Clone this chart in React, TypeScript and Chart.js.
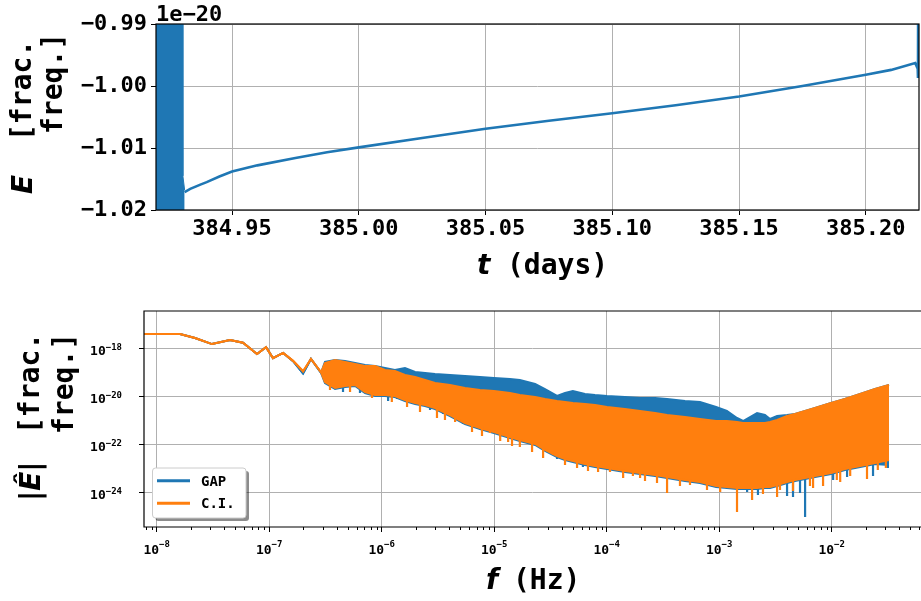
import React, { useEffect, useRef } from "react";
import { Chart, registerables } from "chart.js";

Chart.register(...registerables);

const BLUE = "#1f77b4";
const ORANGE = "#ff7f0e";
const GRID = "#b0b0b0";
const MONO = '"DejaVu Sans Mono", monospace';
const SANS = '"DejaVu Sans", sans-serif';

/* ---------------- top panel: E(t), values in units of 1e-20 ---------------- */
const topTickT = [384.95, 385.0, 385.05, 385.1, 385.15, 385.2];
const topTickE = [-1.02, -1.01, -1.0, -0.99];
const topRangeT = [384.92, 385.221];
const topRangeE = [-1.02, -0.99];
// outline of the dense oscillation at the start of the record
const bandT = [384.9195, 384.9305, 384.9306, 384.9313];
const bandE = [-0.98, -0.98, -1.0145, -1.0168];
const curveT = [384.9313, 384.9335, 384.9375, 384.94, 384.945, 384.95, 384.96, 384.975, 384.9875, 385.0, 385.025, 385.05, 385.075, 385.1, 385.125, 385.15, 385.175, 385.2, 385.21, 385.2195, 385.2205, 385.2206, 385.2207];
const curveE = [-1.0171, -1.0166, -1.0159, -1.0155, -1.0146, -1.0138, -1.0128, -1.0116, -1.0107, -1.0099, -1.0084, -1.0069, -1.0056, -1.0044, -1.0031, -1.0017, -1.0, -0.9982, -0.9974, -0.9963, -0.9972, -0.9987, -0.98];

/* ---------------- bottom panel: |E^|(f) ---------------- */
const botXTicks = [1e-8, 1e-7, 1e-6, 1e-5, 1e-4, 1e-3, 1e-2];
const botYTicks = [1e-24, 1e-22, 1e-20, 1e-18];
const botRangeF = [7.71e-9, 0.0622];
const botRangeV = [3.58e-26, 3.58e-17];
const minorSteps = [2, 3, 4, 5, 6, 7, 8, 9];

// low-frequency part, where both spectra coincide
const lowF = [7.71e-9, 1.61e-8, 2.19e-8, 3.1e-8, 4.48e-8, 5.85e-8, 7.79e-8, 9.37e-8, 1.08e-7, 1.33e-7, 1.63e-7, 2.0e-7, 2.35e-7, 2.89e-7];
const lowCI = [3.9e-18, 3.9e-18, 2.7e-18, 1.5e-18, 2.2e-18, 1.7e-18, 5.8e-19, 1.1e-18, 3.9e-19, 6.4e-19, 3.0e-19, 1.1e-19, 3.6e-19, 1.0e-19];
const lowGAP = [3.9e-18, 3.9e-18, 2.7e-18, 1.5e-18, 2.2e-18, 1.7e-18, 5.8e-19, 1.1e-18, 3.9e-19, 6.4e-19, 2.9e-19, 9.0e-20, 3.6e-19, 9.5e-20];

// noisy part: upper / lower envelopes
const bandF = [3.13e-7, 3.85e-7, 4.72e-7, 5.8e-7, 7.11e-7, 8.72e-7, 1.07e-6, 1.31e-6, 1.61e-6, 1.98e-6, 2.43e-6, 2.98e-6, 4.05e-6, 5.5e-6, 7.48e-6, 9.95e-6, 1.38e-5, 1.69e-5, 2.31e-5, 2.83e-5, 3.62e-5, 4.26e-5, 5.01e-5, 6.41e-5, 7.87e-5, 1.006e-4, 1.45e-4, 1.98e-4, 2.69e-4, 3.44e-4, 4.97e-4, 6.75e-4, 9.38e-4, 1.17e-3, 1.44e-3, 1.63e-3, 1.88e-3, 2.17e-3, 2.55e-3, 2.83e-3, 3.27e-3, 4.01e-3, 4.72e-3, 5.8e-3, 7.11e-3, 9.87e-3, 1.31e-2, 1.79e-2, 2.43e-2, 3.23e-2];
const ciUpper = [2.44e-19, 3.25e-19, 2.69e-19, 2.22e-19, 1.83e-19, 1.83e-19, 1.25e-19, 1.13e-19, 7.72e-20, 6.37e-20, 4.78e-20, 3.58e-20, 2.96e-20, 2.22e-20, 1.83e-20, 1.66e-20, 1.37e-20, 1.13e-20, 9.35e-21, 7.72e-21, 6.37e-21, 5.79e-21, 5.26e-21, 4.78e-21, 4.34e-21, 3.58e-21, 2.96e-21, 2.44e-21, 2.01e-21, 1.66e-21, 1.37e-21, 1.13e-21, 9.35e-22, 9.35e-22, 8.5e-22, 7.72e-22, 7.72e-22, 7.72e-22, 7.72e-22, 8.5e-22, 1.03e-21, 1.51e-21, 1.83e-21, 2.44e-21, 3.25e-21, 5.26e-21, 7.72e-21, 1.25e-20, 2.01e-20, 2.96e-20];
const ciLower = [3.94e-20, 2.22e-20, 2.69e-20, 2.96e-20, 1.51e-20, 1.13e-20, 1.13e-20, 1.03e-20, 7.01e-21, 5.26e-21, 4.34e-21, 3.25e-21, 1.66e-21, 7.72e-22, 4.78e-22, 3.25e-22, 2.01e-22, 1.51e-22, 1.03e-22, 5.79e-23, 3.25e-23, 2.44e-23, 2.01e-23, 1.51e-23, 1.25e-23, 1.03e-23, 7.72e-24, 6.37e-24, 5.26e-24, 4.34e-24, 3.25e-24, 2.69e-24, 1.83e-24, 1.66e-24, 1.51e-24, 1.51e-24, 1.51e-24, 1.51e-24, 1.66e-24, 1.66e-24, 2.01e-24, 2.69e-24, 3.25e-24, 3.94e-24, 4.78e-24, 6.37e-24, 9.35e-24, 1.25e-23, 1.66e-23, 2.22e-23];
const gapUpper = [2.69e-19, 3.25e-19, 2.96e-19, 2.44e-19, 2.01e-19, 1.83e-19, 1.51e-19, 1.25e-19, 1.51e-19, 1.03e-19, 9.35e-20, 8.5e-20, 7.72e-20, 7.01e-20, 6.37e-20, 5.79e-20, 5.26e-20, 4.78e-20, 3.25e-20, 2.01e-20, 1.03e-20, 1.37e-20, 1.66e-20, 1.25e-20, 1.13e-20, 1.03e-20, 9.35e-21, 8.5e-21, 8.5e-21, 7.72e-21, 6.37e-21, 5.79e-21, 3.58e-21, 2.44e-21, 1.25e-21, 9.35e-22, 1.37e-21, 2.01e-21, 1.66e-21, 1.13e-21, 1.51e-21, 1.66e-21, 1.83e-21, 2.44e-21, 3.25e-21, 5.26e-21, 7.72e-21, 1.25e-20, 2.01e-20, 2.96e-20];
const gapLower = [3.58e-20, 2.01e-20, 2.44e-20, 2.69e-20, 1.37e-20, 1.03e-20, 1.03e-20, 9.35e-21, 6.37e-21, 4.78e-21, 3.94e-21, 2.96e-21, 1.51e-21, 7.01e-22, 4.34e-22, 2.96e-22, 1.83e-22, 1.37e-22, 9.35e-23, 5.26e-23, 2.96e-23, 2.22e-23, 1.83e-23, 1.37e-23, 1.13e-23, 9.35e-24, 7.01e-24, 5.79e-24, 4.78e-24, 3.94e-24, 2.96e-24, 2.44e-24, 1.66e-24, 1.51e-24, 1.37e-24, 1.37e-24, 1.37e-24, 1.37e-24, 1.51e-24, 1.51e-24, 1.83e-24, 2.44e-24, 2.96e-24, 3.58e-24, 4.34e-24, 5.79e-24, 8.5e-24, 1.13e-23, 1.51e-23, 1.37e-23];

// downward spikes (frequency, base, tip)
const ciSpikeF = [3.47e-7, 5.23e-7, 8.2e-7, 1.23e-6, 1.68e-6, 2.19e-6, 3.1e-6, 3.65e-6, 4.49e-6, 6.35e-6, 7.79e-6, 9.18e-6, 1.13e-5, 1.33e-5, 1.44e-5, 1.69e-5, 2.17e-5, 2.72e-5, 3.33e-5, 4.26e-5, 5.45e-5, 6.82e-5, 8.38e-5, 1.07e-4, 1.4e-4, 1.71e-4, 1.98e-4, 2.19e-4, 2.8e-4, 3.44e-4, 4.48e-4, 5.5e-4, 7.79e-4, 1.02e-3, 1.44e-3, 1.96e-3, 2.45e-3, 3.27e-3, 3.47e-3, 4.53e-3, 6.41e-3, 6.83e-3, 8.38e-3, 1.11e-2, 1.19e-2, 1.46e-2, 2.06e-2, 2.57e-2, 3.03e-2];
const ciSpikeBase = [3.94e-20, 3.58e-20, 1.83e-20, 1.51e-20, 7.72e-21, 7.01e-21, 3.58e-21, 3.58e-21, 1.51e-21, 9.35e-22, 6.37e-22, 4.34e-22, 3.94e-22, 2.69e-22, 2.44e-22, 2.22e-22, 1.66e-22, 9.35e-23, 5.26e-23, 2.96e-23, 2.69e-23, 2.22e-23, 1.51e-23, 1.25e-23, 1.13e-23, 8.5e-24, 7.72e-24, 8.5e-24, 7.01e-24, 5.26e-24, 5.26e-24, 3.94e-24, 3.25e-24, 2.22e-24, 1.83e-24, 1.83e-24, 2.44e-24, 2.96e-24, 2.69e-24, 3.58e-24, 6.37e-24, 5.26e-24, 7.01e-24, 1.13e-23, 1.03e-23, 1.51e-23, 1.66e-23, 2.69e-23, 2.96e-23];
const ciSpikeTip = [1.83e-20, 1.51e-20, 8.5e-21, 5.79e-21, 3.58e-21, 2.22e-21, 1.25e-21, 1.03e-21, 8.5e-22, 3.25e-22, 2.22e-22, 2.96e-22, 1.37e-22, 1.25e-22, 8.5e-23, 7.72e-23, 4.78e-23, 2.69e-23, 3.58e-23, 1.37e-23, 1.03e-23, 7.72e-24, 7.01e-24, 7.01e-24, 3.94e-24, 4.78e-24, 3.94e-24, 2.96e-24, 2.44e-24, 9.35e-25, 1.83e-24, 2.01e-24, 1.25e-24, 1.03e-24, 1.51e-25, 4.78e-25, 8.5e-25, 6.37e-25, 1.25e-24, 1.13e-24, 1.83e-24, 1.51e-24, 1.83e-24, 3.25e-24, 2.69e-24, 4.78e-24, 3.58e-24, 8.5e-24, 1.03e-23];
const gapSpikeF = [4.53e-7, 6.41e-7, 1.14e-6, 1.37e-6, 2.69e-6, 3.51e-6, 5.28e-6, 1.13e-5, 3.62e-5, 6.15e-5, 1.77e-3, 2.21e-3, 4.01e-3, 4.53e-3, 5.23e-3, 5.8e-3, 1.03e-2, 1.37e-2, 2.33e-2, 3.16e-2];
const gapSpikeBase = [2.69e-20, 2.44e-20, 1.13e-20, 1.13e-20, 4.34e-21, 2.96e-21, 1.03e-21, 2.96e-22, 3.58e-23, 1.66e-23, 1.66e-24, 1.66e-24, 2.69e-24, 2.96e-24, 3.25e-24, 3.58e-24, 6.37e-24, 9.35e-24, 1.51e-23, 2.01e-23];
const gapSpikeTip = [1.51e-20, 1.37e-20, 6.37e-21, 7.72e-21, 2.69e-21, 1.83e-21, 7.01e-22, 2.01e-22, 2.44e-23, 1.13e-23, 1.03e-24, 7.72e-25, 7.01e-25, 6.37e-25, 9.35e-25, 9.35e-26, 3.25e-24, 4.34e-24, 4.78e-24, 1.03e-23];

const legendLabels = ["GAP", "C.I."];
const legendColors = [BLUE, ORANGE];

/* ---------------- helpers ---------------- */
function zip(xs: number[], ys: number[]) {
  return xs.map((x, i) => ({ x, y: ys[i] }));
}
function spikes(f: number[], base: number[], tip: number[]) {
  const out: { x: number; y: number | null }[] = [];
  f.forEach((x, i) => {
    out.push({ x, y: base[i] }, { x, y: tip[i] }, { x, y: null });
  });
  return out;
}
function rotText(ctx: CanvasRenderingContext2D, text: string, font: string, xBase: number, yStart: number) {
  ctx.save();
  ctx.translate(xBase, yStart);
  ctx.rotate(-Math.PI / 2);
  ctx.font = font;
  ctx.textAlign = "left";
  ctx.textBaseline = "alphabetic";
  ctx.fillStyle = "#000";
  ctx.fillText(text, 0, 0);
  ctx.restore();
}
function expText(v: number) {
  const e = Math.round(Math.log10(v));
  return (e < 0 ? "\u2212" : "") + Math.abs(e);
}

const TITLE_MONO = `bold 28px ${MONO}`;
const TITLE_MATH = `italic bold 28px ${SANS}`;

const topDecor = {
  id: "topDecor",
  afterDraw(chart: any) {
    const { ctx, chartArea: a } = chart;
    ctx.save();
    ctx.strokeStyle = "#000";
    ctx.lineWidth = 1.2;
    ctx.strokeRect(a.left, a.top, a.right - a.left, a.bottom - a.top);
    ctx.fillStyle = "#000";
    ctx.font = `bold 22px ${MONO}`;
    ctx.textAlign = "left";
    ctx.textBaseline = "alphabetic";
    ctx.fillText("1e\u221220", a.left, 21);
    ctx.font = TITLE_MATH;
    ctx.fillText("t", 477, 274);
    ctx.font = TITLE_MONO;
    ctx.fillText("(days)", 507, 274);
    ctx.restore();
    rotText(ctx, "E", TITLE_MATH, 32, 194);
    rotText(ctx, "[frac.", TITLE_MONO, 31, 141);
    rotText(ctx, "freq.]", TITLE_MONO, 62, 134);
  },
};

const bottomDecor = {
  id: "bottomDecor",
  afterDraw(chart: any) {
    const { ctx, chartArea: a, scales } = chart;
    const x = scales.x;
    const y = scales.y;
    ctx.save();
    ctx.strokeStyle = "#000";
    ctx.lineWidth = 1.2;
    ctx.beginPath();
    ctx.moveTo(a.right + 2, a.top);
    ctx.lineTo(a.left, a.top);
    ctx.lineTo(a.left, a.bottom);
    ctx.lineTo(a.right + 2, a.bottom);
    ctx.stroke();
    // minor ticks on the frequency axis
    ctx.lineWidth = 1;
    ctx.beginPath();
    for (let e = -9; e <= -2; e++) {
      for (const m of minorSteps) {
        const v = m * Math.pow(10, e);
        if (v < botRangeF[0] || v > botRangeF[1]) continue;
        const px = Math.round(x.getPixelForValue(v)) + 0.5;
        ctx.moveTo(px, a.bottom);
        ctx.lineTo(px, a.bottom + 3);
      }
    }
    ctx.stroke();
    // tick labels 10^n
    ctx.fillStyle = "#000";
    ctx.textAlign = "left";
    ctx.textBaseline = "alphabetic";
    const baseFont = `bold 13px ${MONO}`;
    const supFont = `bold 9px ${MONO}`;
    for (const v of botXTicks) {
      const px = x.getPixelForValue(v);
      const ex = expText(v);
      ctx.font = baseFont;
      const w1 = ctx.measureText("10").width;
      ctx.font = supFont;
      const w2 = ctx.measureText(ex).width;
      const x0 = px - (w1 + w2) / 2;
      ctx.font = baseFont;
      ctx.fillText("10", x0, 254);
      ctx.font = supFont;
      ctx.fillText(ex, x0 + w1, 247);
    }
    for (const v of botYTicks) {
      const py = y.getPixelForValue(v);
      const ex = expText(v);
      ctx.font = supFont;
      const w2 = ctx.measureText(ex).width;
      ctx.font = baseFont;
      const w1 = ctx.measureText("10").width;
      const xEnd = 122;
      ctx.fillText("10", xEnd - w2 - w1, py + 7);
      ctx.font = supFont;
      ctx.fillText(ex, xEnd - w2, py + 1.5);
    }
    // legend
    const lx = 152.5, ly = 168, lw = 93.5, lh = 50;
    ctx.fillStyle = "rgba(0,0,0,0.45)";
    ctx.beginPath();
    ctx.roundRect(lx + 3, ly + 3, lw, lh, 3);
    ctx.fill();
    ctx.fillStyle = "#fff";
    ctx.strokeStyle = "#cccccc";
    ctx.lineWidth = 1;
    ctx.beginPath();
    ctx.roundRect(lx, ly, lw, lh, 3);
    ctx.fill();
    ctx.stroke();
    ctx.font = `bold 14px ${MONO}`;
    legendLabels.forEach((lab, i) => {
      const yy = 180.7 + i * 22.6;
      ctx.strokeStyle = legendColors[i];
      ctx.lineWidth = 3;
      ctx.beginPath();
      ctx.moveTo(157, yy);
      ctx.lineTo(190, yy);
      ctx.stroke();
      ctx.fillStyle = "#000";
      ctx.fillText(lab, 201, yy + 5);
    });
    ctx.font = TITLE_MATH;
    ctx.fillText("f", 486, 289);
    ctx.font = TITLE_MONO;
    ctx.fillText("(Hz)", 513, 289);
    ctx.restore();
    rotText(ctx, "|\u00CA|", TITLE_MATH, 40, 201);
    rotText(ctx, "[frac.", TITLE_MONO, 39, 134);
    rotText(ctx, "freq.]", TITLE_MONO, 73, 134);
  },
};

const tickFont = { family: MONO, size: 22, weight: "bold" as const };

function makeTop(canvas: HTMLCanvasElement) {
  return new Chart(canvas, {
    type: "line",
    data: {
      datasets: [
        { data: zip(curveT, curveE), borderColor: BLUE, borderWidth: 2.6, pointRadius: 0, fill: false, tension: 0, order: 1 },
        { data: zip(bandT, bandE), borderColor: BLUE, backgroundColor: BLUE, borderWidth: 1, pointRadius: 0, fill: "start", tension: 0, order: 2 },
      ],
    },
    options: {
      animation: false,
      responsive: false,
      maintainAspectRatio: false,
      events: [],
      layout: { padding: { top: 24, right: 2, bottom: 0, left: 0 } },
      plugins: { legend: { display: false }, tooltip: { enabled: false } },
      scales: {
        x: {
          type: "linear",
          min: topRangeT[0],
          max: topRangeT[1],
          afterBuildTicks: (s: any) => { s.ticks = topTickT.map((v) => ({ value: v })); },
          afterFit: (s: any) => { s.height = 90; },
          grid: { color: GRID, lineWidth: 1, tickColor: "#000", tickLength: 5 },
          border: { display: false },
          ticks: { font: tickFont, color: "#000", padding: 1, maxRotation: 0, autoSkip: false, callback: (v: any) => Number(v).toFixed(2) },
        },
        y: {
          type: "linear",
          min: topRangeE[0],
          max: topRangeE[1],
          afterBuildTicks: (s: any) => { s.ticks = topTickE.map((v) => ({ value: v })); },
          afterFit: (s: any) => { s.width = 156; },
          grid: { color: GRID, lineWidth: 1, tickColor: "#000", tickLength: 5 },
          border: { display: false },
          ticks: { font: tickFont, color: "#000", padding: 4, autoSkip: false, callback: (v: any) => (Number(v) < 0 ? "\u2212" : "") + Math.abs(Number(v)).toFixed(2) },
        },
      },
    } as any,
    plugins: [topDecor],
  });
}

function makeBottom(canvas: HTMLCanvasElement) {
  const line = (data: any, color: string, extra: any) => ({ data, borderColor: color, backgroundColor: color, borderWidth: 2, pointRadius: 0, tension: 0, spanGaps: false, ...extra });
  return new Chart(canvas, {
    type: "line",
    data: {
      datasets: [
        line([...zip(lowF, lowGAP), ...zip(bandF, gapUpper)], BLUE, { fill: false, order: 2 }),
        line([...zip(lowF, lowGAP), ...zip(bandF, gapLower)], BLUE, { fill: "-1", order: 2 }),
        line(spikes(gapSpikeF, gapSpikeBase, gapSpikeTip), BLUE, { fill: false, order: 2, borderWidth: 2.2 }),
        line([...zip(lowF, lowCI), ...zip(bandF, ciUpper)], ORANGE, { fill: false, order: 1 }),
        line([...zip(lowF, lowCI), ...zip(bandF, ciLower)], ORANGE, { fill: "-1", order: 1 }),
        line(spikes(ciSpikeF, ciSpikeBase, ciSpikeTip), ORANGE, { fill: false, order: 1, borderWidth: 2.2 }),
      ],
    },
    options: {
      animation: false,
      responsive: false,
      maintainAspectRatio: false,
      events: [],
      layout: { padding: { top: 11, right: 0, bottom: 0, left: 0 } },
      plugins: { legend: { display: false }, tooltip: { enabled: false } },
      scales: {
        x: {
          type: "logarithmic",
          min: botRangeF[0],
          max: botRangeF[1],
          afterBuildTicks: (s: any) => { s.ticks = botXTicks.map((v) => ({ value: v })); },
          afterFit: (s: any) => { s.height = 74; },
          grid: { color: GRID, lineWidth: 1, tickColor: "#000", tickLength: 5 },
          border: { display: false },
          ticks: { display: false },
        },
        y: {
          type: "logarithmic",
          min: botRangeV[0],
          max: botRangeV[1],
          afterBuildTicks: (s: any) => { s.ticks = botYTicks.map((v) => ({ value: v })); },
          afterFit: (s: any) => { s.width = 144; },
          grid: { color: GRID, lineWidth: 1, tickColor: "#000", tickLength: 5 },
          border: { display: false },
          ticks: { display: false },
        },
      },
    } as any,
    plugins: [bottomDecor],
  });
}

export default function App() {
  const topRef = useRef<HTMLCanvasElement>(null);
  const botRef = useRef<HTMLCanvasElement>(null);
  useEffect(() => {
    const c1 = makeTop(topRef.current!);
    const c2 = makeBottom(botRef.current!);
    return () => {
      c1.destroy();
      c2.destroy();
    };
  }, []);
  return (
    <div style={{ position: "absolute", left: 0, top: 0, width: 921, height: 601, background: "#fff", overflow: "hidden" }}>
      <canvas ref={topRef} width={921} height={300} style={{ position: "absolute", left: 0, top: 0, width: 921, height: 300 }} />
      <canvas ref={botRef} width={921} height={301} style={{ position: "absolute", left: 0, top: 300, width: 921, height: 301 }} />
    </div>
  );
}
